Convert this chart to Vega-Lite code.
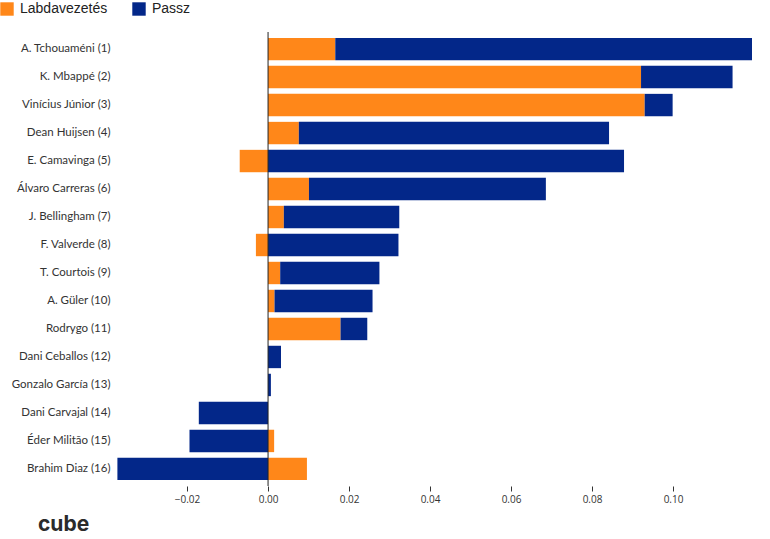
{
  "$schema": "https://vega.github.io/schema/vega-lite/v6.json",
  "width": 635,
  "height": 454,
  "autosize": {"type": "none"},
  "padding": {"left": 117, "top": 32, "right": 18, "bottom": 53},
  "background": "white",
  "config": {"view": {"stroke": null}, "font": "Open Sans"},
  "title": {
    "text": "cube",
    "orient": "bottom",
    "anchor": "start",
    "frame": "group",
    "dx": -79,
    "offset": 10,
    "fontSize": 21,
    "fontWeight": "bold",
    "color": "#2b2b2b",
    "font": "Inter"
  },
  "data": {
    "values": [
      {"player": "A. Tchouaméni (1)", "type": "Labdavezetés", "value": 0.0166},
      {"player": "A. Tchouaméni (1)", "type": "Passz", "value": 0.1029},
      {"player": "K. Mbappé (2)", "type": "Labdavezetés", "value": 0.0921},
      {"player": "K. Mbappé (2)", "type": "Passz", "value": 0.0226},
      {"player": "Vinícius Júnior (3)", "type": "Labdavezetés", "value": 0.0930},
      {"player": "Vinícius Júnior (3)", "type": "Passz", "value": 0.0069},
      {"player": "Dean Huijsen (4)", "type": "Labdavezetés", "value": 0.0076},
      {"player": "Dean Huijsen (4)", "type": "Passz", "value": 0.0766},
      {"player": "E. Camavinga (5)", "type": "Labdavezetés", "value": -0.0070},
      {"player": "E. Camavinga (5)", "type": "Passz", "value": 0.0879},
      {"player": "Álvaro Carreras (6)", "type": "Labdavezetés", "value": 0.0101},
      {"player": "Álvaro Carreras (6)", "type": "Passz", "value": 0.0585},
      {"player": "J. Bellingham (7)", "type": "Labdavezetés", "value": 0.0039},
      {"player": "J. Bellingham (7)", "type": "Passz", "value": 0.0285},
      {"player": "F. Valverde (8)", "type": "Labdavezetés", "value": -0.0030},
      {"player": "F. Valverde (8)", "type": "Passz", "value": 0.0322},
      {"player": "T. Courtois (9)", "type": "Labdavezetés", "value": 0.0030},
      {"player": "T. Courtois (9)", "type": "Passz", "value": 0.0245},
      {"player": "A. Güler (10)", "type": "Labdavezetés", "value": 0.0016},
      {"player": "A. Güler (10)", "type": "Passz", "value": 0.0242},
      {"player": "Rodrygo (11)", "type": "Labdavezetés", "value": 0.0179},
      {"player": "Rodrygo (11)", "type": "Passz", "value": 0.0066},
      {"player": "Dani Ceballos (12)", "type": "Labdavezetés", "value": 0.0},
      {"player": "Dani Ceballos (12)", "type": "Passz", "value": 0.0032},
      {"player": "Gonzalo García (13)", "type": "Labdavezetés", "value": 0.0},
      {"player": "Gonzalo García (13)", "type": "Passz", "value": 0.0007},
      {"player": "Dani Carvajal (14)", "type": "Labdavezetés", "value": 0.0},
      {"player": "Dani Carvajal (14)", "type": "Passz", "value": -0.0171},
      {"player": "Éder Militão (15)", "type": "Labdavezetés", "value": 0.0015},
      {"player": "Éder Militão (15)", "type": "Passz", "value": -0.0194},
      {"player": "Brahim Diaz (16)", "type": "Labdavezetés", "value": 0.0096},
      {"player": "Brahim Diaz (16)", "type": "Passz", "value": -0.0372}
    ]
  },
  "layer": [
    {
      "mark": {"type": "bar"},
      "encoding": {
        "y": {
          "field": "player",
          "type": "nominal",
          "sort": null,
          "scale": {"paddingInner": 0.2, "paddingOuter": 0.21},
          "axis": {
            "title": null,
            "ticks": false,
            "domain": false,
            "labelFontSize": 11.5,
            "labelColor": "#333333",
            "labelPadding": 7,
            "labelFont": "Lato"
          }
        },
        "x": {
          "field": "value",
          "type": "quantitative",
          "stack": "zero",
          "scale": {"domain": [-0.0373, 0.1195], "nice": false, "zero": true},
          "axis": {
            "title": null,
            "format": ".2f",
            "values": [-0.02, 0, 0.02, 0.04, 0.06, 0.08, 0.1],
            "grid": false,
            "domain": false,
            "tickSize": 5,
            "tickColor": "#333333",
            "labelFontSize": 10,
            "labelColor": "#333333",
            "labelPadding": 3,
            "labelFont": "Open Sans"
          }
        },
        "color": {
          "field": "type",
          "type": "nominal",
          "scale": {"domain": ["Labdavezetés", "Passz"], "range": ["#FF8719", "#032789"]},
          "legend": {
            "title": null,
            "orient": "none",
            "legendX": -117,
            "legendY": -30,
            "direction": "horizontal",
            "symbolType": "square",
            "symbolSize": 180,
            "symbolOpacity": 1,
            "symbolStrokeWidth": 0,
            "labelFontSize": 14,
            "labelFont": "Liberation Sans",
            "labelColor": "#222222",
            "columnPadding": 24,
            "labelOffset": 6
          }
        },
        "order": {"field": "type", "sort": "ascending"}
      }
    },
    {
      "data": {"values": [{"zero": 0}]},
      "mark": {"type": "rule", "color": "#222222", "strokeWidth": 1},
      "encoding": {"x": {"field": "zero", "type": "quantitative"}}
    }
  ]
}
